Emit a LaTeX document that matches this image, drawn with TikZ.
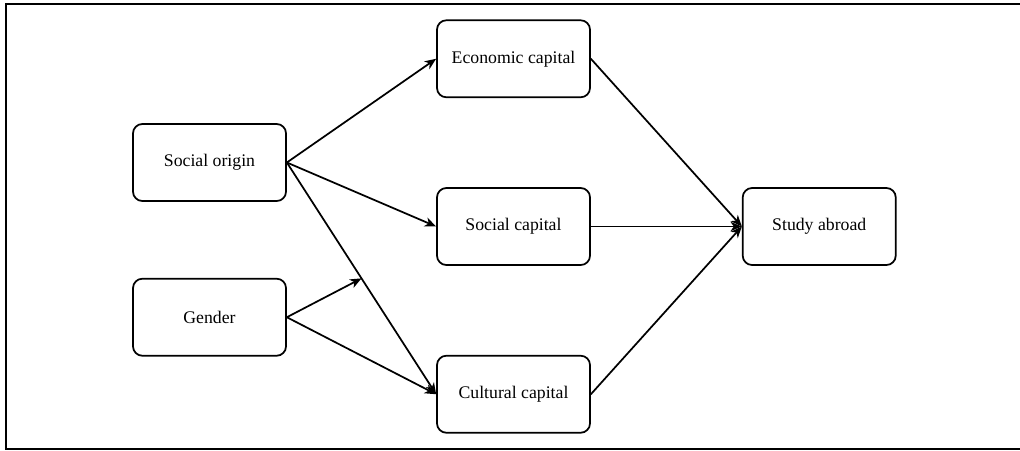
\documentclass[tikz,border=0pt]{standalone}
\usepackage{fontspec}
\setmainfont{Liberation Serif}
\usetikzlibrary{arrows.meta,calc,positioning}

\begin{document}
\begin{tikzpicture}[
    x=0.75pt, y=-0.75pt,
    font=\fontsize{13.3}{16}\selectfont,
    box/.style={draw, line width=1.3pt, rounded corners=7pt, fill=white, align=center,
        minimum width=114.75pt, minimum height=57.75pt, inner sep=0pt},
    arrow/.style={-{Stealth[length=8.5pt, width=7pt, inset=2.5pt]}, line width=1.3pt},
    frame/.style={line width=1.8pt}
]
\useasboundingbox (0,0) rectangle (1020,450);
\draw[frame] (1020,4) -- (6,4) -- (6,449) -- (1020,449);

\node[box] (soccap) at (513.5,226.5) {Social capital};
\node[box, above=66.75pt of soccap] (econ) {Economic capital};
\node[box, below=66.75pt of soccap] (cultcap) {Cultural capital};
\node[box, right=113.25pt of soccap] (abroad) {Study abroad};
\node[box] (origin) at (209.5,162.5) {Social origin};
\node[box, below=57pt of origin] (gender) {Gender};

\draw[arrow] (origin.east) -- (econ.west);
\draw[arrow] (origin.east) -- (soccap.west);
\draw[arrow] (origin.east) -- (cultcap.west);
\draw[arrow] (gender.east) -- (cultcap.west);
\draw[arrow] (gender.east) -- ($(origin.east)!0.5!(cultcap.west)$);
\draw[arrow] (econ.east) -- (abroad.west);
\draw[arrow] (soccap.east) -- (abroad.west);
\draw[arrow] (cultcap.east) -- (abroad.west);

\end{tikzpicture}
\end{document}
